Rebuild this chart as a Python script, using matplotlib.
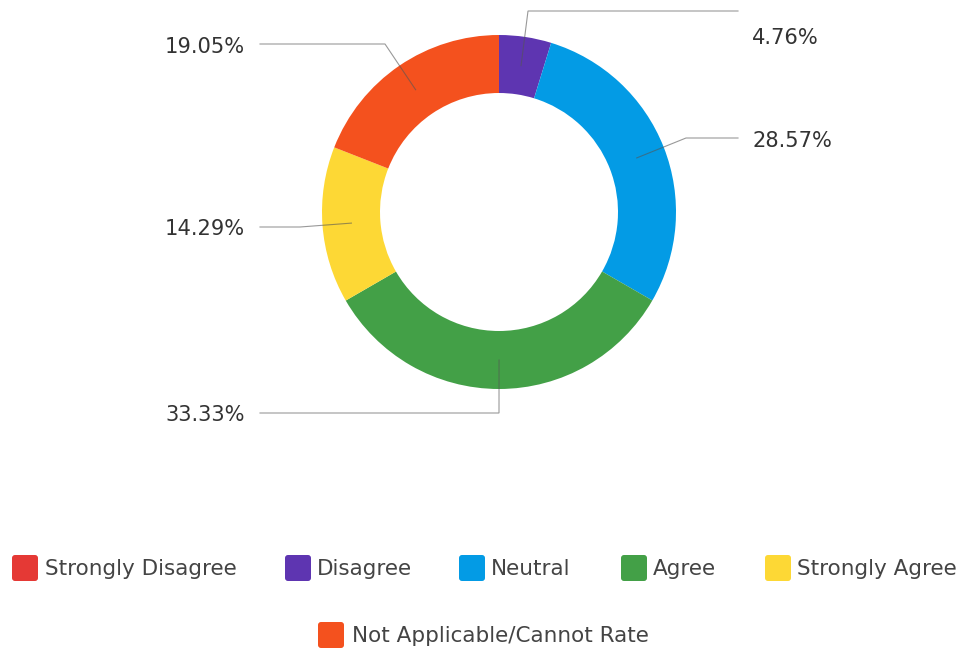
import matplotlib
matplotlib.use("Agg")
import matplotlib.pyplot as plt
from matplotlib.patches import FancyBboxPatch
import numpy as np

categories = ["Strongly Disagree", "Disagree", "Neutral", "Agree", "Strongly Agree",
              "Not Applicable/Cannot Rate"]
values = [0.0, 4.76, 28.57, 33.33, 14.29, 19.05]
labels = ["0.00%", "4.76%", "28.57%", "33.33%", "14.29%", "19.05%"]
colors = ["#E53935", "#5E35B1", "#039BE5", "#43A047", "#FDD835", "#F4511E"]

plt.rcParams['font.family'] = ['DejaVu Sans']

W, H = 963, 651
fig = plt.figure(figsize=(W / 100, H / 100), dpi=100)
ax = fig.add_axes([0, 0, 1, 1])

cx, cy = 499, H - 212
R, w = 177, 58
ax.pie(values, colors=colors, startangle=90, counterclock=False, center=(cx, cy),
       radius=R, wedgeprops=dict(width=w, linewidth=0), frame=True)
ax.set_xlim(0, W)
ax.set_ylim(0, H)
ax.set_aspect("equal")
ax.axis("off")

renderer = fig.canvas.get_renderer()


def size_for(text, target_px, **kw):
    t = ax.text(0, 0, text, fontsize=10, **kw)
    wpx = t.get_window_extent(renderer).width
    t.remove()
    return 10 * target_px / wpx


label_fs = size_for("19.05%", 80)
legend_fs = size_for("Not Applicable/Cannot Rate", 298)

# leader lines: (elbow, line_end_x, text_x, text_y, ha)
layout = {
    1: ((528, 11), 738, 752, 38, "left"),
    2: ((686, 138), 738, 752, 141, "left"),
    3: ((499, 413), 260, 245, 415, "right"),
    4: ((300, 227), 260, 245, 229, "right"),
    5: ((385, 44), 260, 245, 47, "right"),
}
total = sum(values)
cum = 0
rmid = R - w / 2
for i, v in enumerate(values):
    a0 = 90 - cum / total * 360
    cum += v
    a1 = 90 - cum / total * 360
    if v == 0:
        continue
    am = np.deg2rad((a0 + a1) / 2)
    sx, sy = cx + rmid * np.cos(am), cy + rmid * np.sin(am)
    (ex, ey), lx, tx, ty, ha = layout[i]
    ey = H - ey
    ax.plot([sx, ex, lx], [sy, ey, ey], color="#555555", lw=0.8, alpha=0.6,
            solid_joinstyle="miter")
    ax.text(tx, H - ty, labels[i], ha=ha, va="center", fontsize=label_fs, color="#333333")

# legend
leg = [(12, 45, 569), (285, 317, 569), (459, 491, 569), (621, 653, 569),
       (765, 797, 569), (318, 352, 636)]
for i, (sx, tx, y) in enumerate(leg):
    s = 26
    p = FancyBboxPatch((sx + 3, H - (y - 1) - s / 2 + 3), s - 6, s - 6,
                       boxstyle="round,pad=3", fc=colors[i], ec="none")
    ax.add_patch(p)
    ax.text(tx, H - y, categories[i], ha="left", va="center", fontsize=legend_fs,
            color="#444444")

fig.savefig("out.png", dpi=100, facecolor="white")
